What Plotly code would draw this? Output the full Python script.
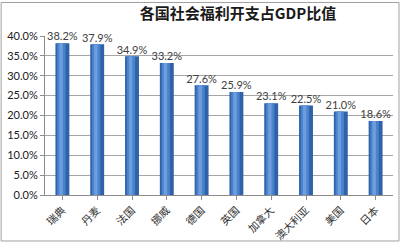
import plotly.graph_objects as go

countries = ["瑞典", "丹麦", "法国", "挪威", "德国", "英国", "加拿大", "澳大利亚", "美国", "日本"]
values = [0.382, 0.379, 0.349, 0.332, 0.276, 0.259, 0.231, 0.225, 0.210, 0.186]
labels = ["38.2%", "37.9%", "34.9%", "33.2%", "27.6%", "25.9%", "23.1%", "22.5%", "21.0%", "18.6%"]

fig = go.Figure()
# base (darker edges of the cylinder)
fig.add_trace(go.Bar(
    x=countries, y=values, width=0.4,
    marker=dict(color="#2F62A8", line=dict(width=0)),
    hoverinfo="skip", showlegend=False,
))
# highlight (lighter centre of the cylinder)
fig.add_trace(go.Bar(
    x=countries, y=values, width=0.24, offset=-0.15,
    marker=dict(color="#4A83CC", line=dict(width=0)),
    hoverinfo="skip", showlegend=False,
))
fig.add_trace(go.Bar(
    x=countries, y=values, width=0.1, offset=-0.09,
    marker=dict(color="#6C9EDD", line=dict(width=0)),
    hoverinfo="skip", showlegend=False,
))
# data labels
fig.add_trace(go.Scatter(
    x=countries, y=values, mode="text", text=labels,
    textposition="top center", cliponaxis=False,
    textfont=dict(family="Lato, Open Sans, sans-serif", size=11, color="#404040"),
    hoverinfo="skip", showlegend=False,
))

fig.update_layout(
    width=400, height=250,
    margin=dict(l=44, r=7, t=36, b=48),
    paper_bgcolor="white", plot_bgcolor="white",
    barmode="overlay",
    title=dict(
        text="<b>各国社会福利开支占GDP比值</b>",
        x=0.595, xanchor="center", y=1 - 14 / 250, yanchor="middle",
        font=dict(family="Noto Sans CJK SC", size=15, color="#1a1a1a"),
    ),
    xaxis=dict(
        tickangle=-45,
        tickfont=dict(family="Noto Sans CJK SC", size=10.5, color="#303030"),
        showline=True, linecolor="#8c8c8c", linewidth=1,
        ticks="outside", ticklen=4, tickcolor="#8c8c8c",
        showgrid=False, range=[-0.5, 9.5],
    ),
    yaxis=dict(
        range=[0, 0.4], dtick=0.05, tickformat=".1%",
        tickfont=dict(family="Lato, Open Sans, sans-serif", size=11, color="#202020"),
        showline=True, linecolor="#8c8c8c", linewidth=1,
        ticks="outside", ticklen=4, tickcolor="#8c8c8c",
        showgrid=True, gridcolor="#a6a6a6", gridwidth=1,
        zeroline=False,
    ),
    shapes=[dict(type="rect", xref="paper", yref="paper",
                 x0=-44 / 349, x1=1 + 6 / 349, y0=-48 / 166, y1=1 + 35 / 166,
                 line=dict(color="#a0a0a0", width=1))],
)

fig.write_html("out.html")
